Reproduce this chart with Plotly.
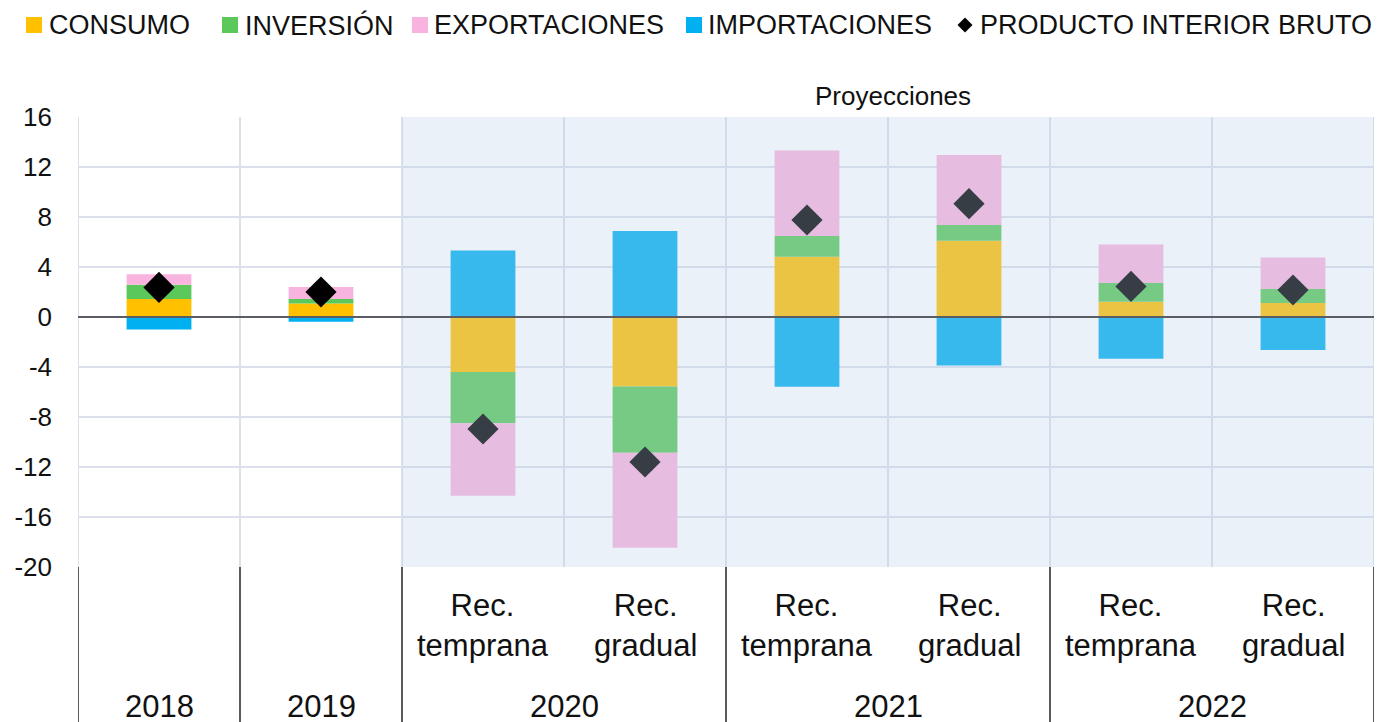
import plotly.graph_objects as go

categories = ["2018", "2019", "2020 temprana", "2020 gradual",
              "2021 temprana", "2021 gradual", "2022 temprana", "2022 gradual"]
scenario_labels = ["", "", "Rec.<br>temprana", "Rec.<br>gradual",
                   "Rec.<br>temprana", "Rec.<br>gradual", "Rec.<br>temprana", "Rec.<br>gradual"]
year_groups = ["2018", "2019", "2020", "2021", "2022"]
year_spans = [(0, 0), (1, 1), (2, 3), (4, 5), (6, 7)]

consumo = [1.44, 1.09, -4.4, -5.55, 4.83, 6.1, 1.23, 1.12]
inversion = [1.15, 0.35, -4.1, -5.3, 1.65, 1.26, 1.49, 1.12]
exportaciones = [0.83, 0.96, -5.8, -7.6, 6.85, 5.6, 3.09, 2.53]
importaciones = [-1.0, -0.37, 5.33, 6.88, -5.57, -3.87, -3.33, -2.64]
pib = [2.37, 2.0, -8.96, -11.6, 7.76, 9.07, 2.45, 2.16]

series_names = ["CONSUMO", "INVERSIÓN", "EXPORTACIONES", "IMPORTACIONES"]
pib_name = "PRODUCTO INTERIOR BRUTO"

ytick_vals = [16, 12, 8, 4, 0, -4, -8, -12, -16, -20]
ytick_text = ["16", "12", "8", "4", "0", "-4", "-8", "-12", "-16", "-20"]

FONT = "Liberation Sans"
TXT = "#111111"
GRID = "#DCE0EB"
COLORS = ["#FFC000", "#5BC85B", "#F8B4DE", "#00B0F0"]

# figure geometry (the page adds an 8px body margin; figure compensates)
W, H = 1374, 714
ML, MR, MT, MB = 70, 8, 109, 155
PW, PH = W - ML - MR, H - MT - MB


def px_x(sx):  # screen px -> paper x
    return (sx - 8 - ML) / PW


def px_y(sy):  # screen px -> paper y
    return (MT + PH - (sy - 8)) / PH


fig = go.Figure()
for name, vals, col in zip(series_names, [consumo, inversion, exportaciones, importaciones], COLORS):
    fig.add_trace(go.Bar(x=categories, y=vals, name=name, marker_color=col,
                         marker_line_width=0, width=0.4, showlegend=False))
fig.add_trace(go.Scatter(x=categories, y=pib, name=pib_name, mode="markers", showlegend=False,
                         marker=dict(symbol="diamond", size=24, color="#000000")))

shapes = []
annotations = []

# plot-area edge lines
for b in [-0.5, 7.5]:
    shapes.append(dict(type="line", xref="x", yref="paper", x0=b, x1=b, y0=0, y1=1,
                       line=dict(color=GRID, width=2), layer="below"))
# projection shading (drawn above bars to mute them)
shapes.append(dict(type="rect", xref="x", yref="paper", x0=1.5, x1=7.5, y0=0, y1=1,
                   fillcolor="rgba(187,209,231,0.294)", line_width=0, layer="above"))
# zero line above bars
shapes.append(dict(type="line", xref="paper", yref="y", x0=0, x1=1, y0=0, y1=0,
                   line=dict(color="#5a5d63", width=2), layer="above"))
# group dividers under the axis
bounds = [-0.5] + [s[1] + 0.5 for s in year_spans]
for b in bounds:
    shapes.append(dict(type="line", xref="x", yref="paper", x0=b, x1=b,
                       y0=0, y1=-0.36, line=dict(color="#000000", width=1.3)))

# legend row (drawn manually for exact spacing)
LEG_Y = 25
sq_lefts = [26, 222, 412, 686]
text_lefts = [49, 245, 434, 708, 980]
for name, col, sl in zip(series_names, COLORS, sq_lefts):
    shapes.append(dict(type="rect", xref="paper", yref="paper",
                       x0=px_x(sl), x1=px_x(sl + 16), y0=px_y(LEG_Y - 8), y1=px_y(LEG_Y + 8),
                       fillcolor=col, line_width=0))
dc, dr = 965, 7.5
shapes.append(dict(type="path", xref="paper", yref="paper",
                   path=(f"M {px_x(dc - dr)} {px_y(LEG_Y)} L {px_x(dc)} {px_y(LEG_Y - dr)} "
                         f"L {px_x(dc + dr)} {px_y(LEG_Y)} L {px_x(dc)} {px_y(LEG_Y + dr)} Z"),
                   fillcolor="#000000", line_width=0))
for name, tl in zip(series_names + [pib_name], text_lefts):
    annotations.append(dict(x=px_x(tl - 2), y=px_y(LEG_Y), xref="paper", yref="paper",
                            text=name, showarrow=False, xanchor="left", yanchor="middle",
                            font=dict(family=FONT, size=27, color=TXT)))

for i, lab in enumerate(scenario_labels):
    if lab:
        annotations.append(dict(x=i, y=-0.131, xref="x", yref="paper", text=lab,
                                showarrow=False, font=dict(family=FONT, size=31, color=TXT),
                                xanchor="center", yanchor="middle"))
for yr, (a, b) in zip(year_groups, year_spans):
    annotations.append(dict(x=(a + b) / 2, y=-0.311, xref="x", yref="paper", text=yr,
                            showarrow=False, font=dict(family=FONT, size=31, color=TXT),
                            xanchor="center", yanchor="middle"))
annotations.append(dict(x=4.53, y=1.0467, xref="x", yref="paper", text="Proyecciones",
                        showarrow=False, font=dict(family=FONT, size=26, color=TXT),
                        xanchor="center", yanchor="middle"))

fig.update_layout(
    width=W, height=H,
    margin=dict(l=ML, r=MR, t=MT, b=MB, autoexpand=False),
    barmode="relative",
    plot_bgcolor="white", paper_bgcolor="white",
    font=dict(family=FONT, color=TXT),
    showlegend=False,
    shapes=shapes, annotations=annotations,
    xaxis=dict(type="category", tickson="boundaries", showgrid=True,
               gridcolor=GRID, gridwidth=2, showticklabels=False,
               ticks="", zeroline=False, showline=False, range=[-0.5, 7.5]),
    yaxis=dict(range=[-20, 16], tickvals=ytick_vals, ticktext=ytick_text,
               showgrid=True, gridcolor=GRID, gridwidth=2, zeroline=False,
               ticks="", ticklabelstandoff=25,
               tickfont=dict(family=FONT, size=26, color=TXT)),
)

fig.write_html("out.html")
